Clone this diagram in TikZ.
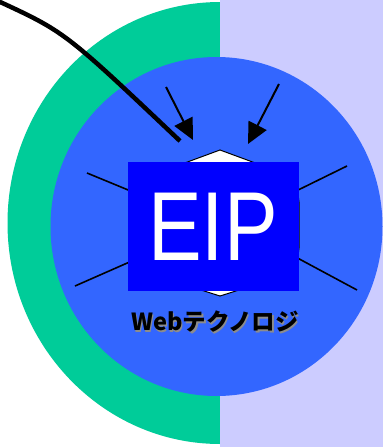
\documentclass[tikz,border=0pt]{standalone}
\usepackage{fontspec}
\usetikzlibrary{arrows.meta}
\newfontfamily\eipfont[FakeStretch=0.82]{Liberation Sans}
\newfontfamily\cjkfont{Noto Sans CJK JP}
\definecolor{lav}{HTML}{CCCCFF}
\definecolor{grn}{HTML}{00CC99}
\definecolor{blu}{HTML}{3366FF}
\definecolor{deepblu}{HTML}{0000FF}
\tikzset{
  ray/.style={line width=1.6pt, black},
  arr/.style={line width=2pt, black, -{Triangle[length=21pt,width=20pt]}},
  lead/.style={line width=4.5pt, black},
}
\begin{document}
\begin{tikzpicture}[x=1pt,y=-1pt]
\fill[white] (0,0) rectangle (383,447);
\useasboundingbox (0,0) rectangle (383,447);
% backgrounds
\begin{scope}
  \clip (0,0) rectangle (220.5,447);
  \fill[grn] (220,223) ellipse [x radius=212.5, y radius=221];
\end{scope}
\fill[lav] (220,0) rectangle (383,447);
\fill[blu] (216.5,226.5) ellipse [x radius=166, y radius=169.5];
% rays
\coordinate (r1) at (87,173);
\coordinate (r1e) at (150,199);
\coordinate (r2) at (75,286);
\coordinate (r2e) at (150,253);
\coordinate (r3) at (347,166);
\coordinate (r3e) at (290,194);
\coordinate (r4) at (357,290);
\coordinate (r4e) at (290,254);
\draw[ray] (r1) -- (r1e);
\draw[ray] (r2) -- (r2e);
\draw[ray] (r3) -- (r3e);
\draw[ray] (r4) -- (r4e);
% white hexagonal shape
\draw[fill=white, line width=1pt] (220,150) -- (296,178) -- (299,202) -- (299,248) -- (296,272) -- (220,296) -- (144,272) -- (141,248) -- (141,202) -- (144,178) -- cycle;
% arrows
\coordinate (a1s) at (166,87);
\coordinate (a1e) at (193,140);
\coordinate (a2s) at (279,84);
\coordinate (a2e) at (248,144);
\draw[arr] (a1s) -- (a1e);
\draw[arr] (a2s) -- (a2e);
% EIP box
\node[fill=deepblu, minimum width=171pt, minimum height=129pt, inner sep=0pt, text=white,
      font=\eipfont\fontsize{98}{98}\selectfont] (eip) at (213,226.5) {EIP};
% label with shadow
\node[text=black!45, font=\cjkfont\bfseries\fontsize{23.5}{24}\selectfont, inner sep=0pt] (lblsh) at (216.5,323.5) {Webテクノロジ};
\node[text=black, font=\cjkfont\bfseries\fontsize{23.5}{24}\selectfont, inner sep=0pt] (lbl) at (215,322) {Webテクノロジ};
% thick leader line
\coordinate (ls) at (-2,1);
\coordinate (le) at (180,141);
\draw[lead] (ls) .. controls (65,32) .. (le);
\end{tikzpicture}
\end{document}
